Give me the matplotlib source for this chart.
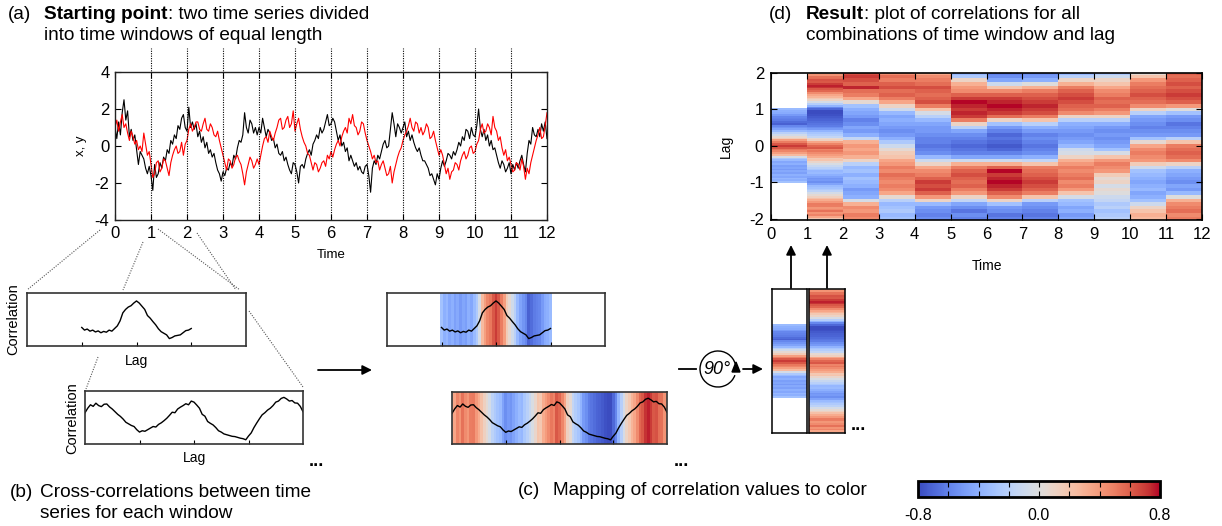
import numpy as np
import matplotlib
matplotlib.use("Agg")
import matplotlib.pyplot as plt
from matplotlib import cm, colors
from matplotlib.patches import Arc, Polygon

plt.rcParams['font.family'] = ['Liberation Sans', 'DejaVu Sans']
plt.rcParams['axes.unicode_minus'] = False

# ---------------------------------------------------------------- data
sample_step = 0.05          # time between samples of the two series
window_edges = [1, 2, 3, 4, 5, 6, 7, 8, 9, 10, 11]

# black series x(t), one row per unit-length window
x_series = [
    1.0, 0.4, 1.3, 0.6, 1.8, 2.5, 1.4, 1.9, 0.5, 0.9, 0.3, 0.6, -0.2, -1.0, -0.3, -0.5, -0.7, -1.2, -1.5, -1.1,
    -1.6, -2.4, -1.0, -1.7, -1.5, -0.9, -1.2, -0.6, -0.8, -0.2, -0.4, 0.3, 0.1, 0.6, 0.4, 1.1, 0.9, 1.5, 1.7, 1.0,
    0.8, 2.1, 1.0, 1.3, 0.9, 1.2, 0.5, 0.8, 0.2, 0.5, -0.1, 0.2, -0.4, -0.2, -0.6, -0.4, -0.9, -1.3, -1.5, -1.9,
    -1.4, -1.6, -1.2, -1.3, -0.9, -1.1, -0.5, -0.7, -0.1, 0.3, 0.2, 0.6, 1.8, 1.0, 0.7, 1.4, 1.2, 0.7, 1.0, 0.6,
    1.0, 0.7, 1.5, 1.0, 0.5, 0.9, 0.7, 0.3, 0.4, -0.1, 0.1, -0.4, -0.5, -0.3, -0.8, -0.6, -1.0, -1.3, -1.5, -0.9,
    -1.0, -1.4, -2.0, -1.1, -1.0, -1.2, -0.7, -0.4, -0.2, -0.5, 0.1, 0.3, 0.6, 0.4, 1.0, 0.7, 0.9, 1.3, 1.7, 1.1,
    1.2, 1.5, 1.3, 0.8, 0.3, 0.6, 0.0, 0.2, -0.3, -0.1, -0.8, -0.5, -0.8, -1.1, -0.9, -1.3, -1.1, -1.4, -1.5, -1.1,
    -1.0, -1.6, -2.5, -1.2, -0.8, -1.0, -0.5, -0.7, -0.3, 0.1, 0.3, -0.1, 0.0, 0.9, 1.8, 1.2, 0.5, 1.2, 1.0, 0.7,
    1.0, 1.3, 0.5, 0.8, 0.3, 0.6, 0.2, -0.1, -0.3, -0.1, -0.5, -0.8, -0.8, -1.0, -1.2, -1.6, -1.5, -1.8, -2.1, -1.5,
    -1.8, -1.2, -0.8, -1.1, -0.8, -0.4, -0.5, -0.7, -0.3, -0.5, -0.2, 0.2, 0.0, 0.5, 0.3, 0.9, 0.8, 0.4, 1.0, 0.6,
    0.5, 1.1, 2.0, 0.9, 0.5, 0.9, 0.3, 0.6, 0.0, 0.3, -0.2, -0.1, -0.5, -0.9, -1.2, -0.8, -1.0, -1.4, -1.2, -0.9,
    -1.5, -1.0, -1.3, -0.9, -1.2, -0.8, -0.5, -1.0, -1.4, -0.4, 0.3, 0.1, 1.0, 0.6, 0.5, 0.9, 0.5, 1.2, 0.8, 1.3,
    0.4,
]

# red series y(t)
y_series = [
    1.0, 1.4, 0.8, 1.3, 1.7, 1.0, 1.2, 0.7, 0.3, 0.8, 0.5, 0.1, 0.3, -0.2, 0.0, -0.3, 0.7, 0.1, -0.5, -0.3,
    -1.0, -1.7, -1.5, -0.9, -0.8, -1.4, -1.2, -0.7, -0.8, -1.2, -1.6, -0.9, -0.5, -0.2, 0.0, -0.4, -0.3, 0.2, -0.5, 0.1,
    0.3, 0.9, 1.2, 0.8, 1.0, 1.3, 1.3, 0.9, 0.8, 1.2, 1.5, 0.9, 0.8, 1.2, 1.0, 0.6, 0.5, 0.8, 0.3, -0.1,
    -0.5, -0.9, -1.3, -0.7, -0.8, -1.2, -1.0, -0.6, -0.5, -0.8, -1.0, -1.5, -2.1, -1.4, -1.0, -0.6, -0.8, -1.2, -1.0, -0.7,
    -1.0, -0.5, 0.0, 0.4, 0.5, 0.2, 0.8, 0.5, 0.3, 0.7, 1.0, 1.4, 1.5, 0.9, 1.0, 1.4, 1.6, 1.0, 1.2, 1.9,
    0.8, 1.2, 1.5, 0.9, 0.5, 0.2, 0.0, -0.4, -0.5, -0.9, -1.3, -0.9, -1.0, -1.4, -1.2, -0.9, -0.8, -1.1, -0.5, -0.7,
    -0.3, -0.6, -0.2, 0.1, 0.3, 0.0, 0.5, 0.8, 1.0, 0.7, 1.5, 1.2, 1.7, 1.1, 1.0, 0.6, 0.8, 1.3, 1.2, 0.7,
    0.3, 0.0, -0.3, -0.7, -0.5, -0.9, -0.8, -1.3, -1.0, -0.8, -1.2, -1.6, -1.5, -1.1, -2.0, -1.4, -1.0, -0.6, -0.3, -0.1,
    0.3, 0.6, 0.8, 1.1, 1.5, 1.0, 0.8, 1.3, 1.2, 0.7, 1.0, 0.6, 0.8, 1.2, 1.0, 0.4, 0.5, 0.8, 0.3, -0.1,
    -0.5, -0.2, -0.5, -1.0, -1.5, -1.2, -1.8, -1.4, -1.3, -0.9, -1.0, -1.3, -0.8, -0.5, -0.3, -0.7, -0.5, -0.1, 0.0, -0.4,
    -0.3, 0.1, 0.3, 0.9, 1.2, 0.7, 0.8, 1.2, 1.0, 0.6, 1.6, 1.0, 0.8, 0.3, 0.5, -0.1, -0.5, -0.2, -0.8, -0.6,
    -1.0, -1.4, -1.3, -0.9, -1.0, -1.3, -0.7, -1.1, -1.8, -1.2, -1.5, -0.9, -0.5, -0.1, 0.3, 0.6, 1.0, 0.4, 0.5, 1.1,
    1.8,
]

# cross-correlation of the first window, lags -1.00 ... 1.00 in steps of 0.05
fine_step = 0.05
corr_win1 = [
    -0.30, -0.40, -0.36, -0.44, -0.40, -0.47, -0.43, -0.50, -0.45, -0.48,
    -0.40, -0.44, -0.34, -0.24, -0.05, 0.25, 0.38, 0.47, 0.52, 0.62,
    0.70,
    0.62, 0.50, 0.38, 0.15, 0.05, -0.08, -0.20, -0.35, -0.46, -0.52,
    -0.58, -0.72, -0.68, -0.62, -0.60, -0.58, -0.50, -0.42, -0.40, -0.34,
]

# cross-correlation of the second window, lags -2.00 ... 2.00 in steps of 0.05
corr_win2 = [
    0.18, 0.35, 0.48, 0.42, 0.54, 0.45, 0.41, 0.50, 0.51, 0.40,
    0.32, 0.22, 0.12, 0.04, -0.06, -0.18, -0.24, -0.30, -0.34, -0.46,
    -0.55, -0.50, -0.52, -0.46, -0.40, -0.34, -0.36, -0.26, -0.20, -0.12,
    -0.03, 0.08, 0.20, 0.18, 0.32, 0.39, 0.45, 0.52, 0.48, 0.62,
    0.58,
    0.47, 0.35, 0.12, 0.05, -0.15, -0.22, -0.28, -0.38, -0.50, -0.55,
    -0.62, -0.65, -0.68, -0.71, -0.72, -0.75, -0.78, -0.80, -0.84, -0.70,
    -0.58, -0.38, -0.21, -0.05, 0.10, 0.18, 0.28, 0.35, 0.45, 0.58,
    0.62, 0.72, 0.76, 0.70, 0.62, 0.64, 0.55, 0.54, 0.42, 0.22,
]

# remaining windows, lags -2.0 ... 2.0 in steps of 0.1
coarse_step = 0.1
corr_win3 = [0.45, 0.5, 0.4, 0.45, 0.3, -0.05, -0.4, -0.45, -0.5, -0.4,
             -0.35, -0.3, -0.4, -0.3, -0.35, -0.2, 0.1, 0.3, 0.4, 0.35, 0.4,
             0.3, -0.15, -0.4, -0.5, -0.45, -0.55, -0.6, -0.5, -0.45, -0.4,
             -0.3, 0.05, 0.35, 0.5, 0.55, 0.75, 0.6, 0.65, 0.7, 0.65]
corr_win4 = [-0.3, -0.35, -0.25, -0.3, -0.35, -0.2, 0.05, 0.35, 0.45, 0.5,
             0.45, 0.5, 0.55, 0.45, 0.5, 0.4, 0.35, 0.2, 0.15, 0.05, -0.1,
             -0.25, -0.4, -0.5, -0.55, -0.5, -0.45, -0.4, -0.45, -0.35, -0.1,
             0.1, 0.35, 0.5, 0.6, 0.55, 0.65, 0.6, 0.5, 0.55, 0.45]
corr_win5 = [-0.55, -0.6, -0.55, -0.5, -0.35, 0.1, 0.4, 0.6, 0.7, 0.65,
             0.7, 0.6, 0.5, 0.45, 0.35, 0.1, -0.1, -0.35, -0.55, -0.6, -0.65,
             -0.6, -0.6, -0.55, -0.5, -0.5, -0.45, -0.35, -0.2, -0.05, 0.2,
             0.5, 0.65, 0.6, 0.55, 0.6, 0.65, 0.55, 0.5, 0.45, 0.35]
corr_win6 = [-0.6, -0.55, -0.65, -0.55, -0.45, -0.15, 0.1, 0.4, 0.5, 0.6,
             0.55, 0.6, 0.65, 0.6, 0.5, 0.3, -0.1, -0.45, -0.6, -0.65, -0.7,
             -0.65, -0.6, -0.55, -0.45, -0.2, 0.1, 0.5, 0.7, 0.75, 0.7,
             0.75, 0.8, 0.7, 0.6, 0.45, 0.4, 0.3, 0.1, -0.25, -0.35]
corr_win7 = [-0.6, -0.65, -0.55, -0.5, -0.3, 0.1, 0.45, 0.6, 0.7, 0.75,
             0.8, 0.75, 0.7, 0.8, 0.6, 0.3, -0.1, -0.45, -0.6, -0.7, -0.75,
             -0.7, -0.65, -0.7, -0.6, -0.5, -0.3, 0.1, 0.55, 0.7, 0.75,
             0.8, 0.75, 0.7, 0.6, 0.45, 0.2, -0.1, -0.45, -0.55, -0.6]
corr_win8 = [-0.6, -0.65, -0.6, -0.55, -0.5, -0.2, 0.2, 0.5, 0.6, 0.65,
             0.7, 0.65, 0.6, 0.55, 0.5, 0.2, -0.15, -0.4, -0.55, -0.6, -0.65,
             -0.6, -0.55, -0.6, -0.5, -0.4, -0.2, 0.2, 0.5, 0.65, 0.7,
             0.75, 0.7, 0.65, 0.6, 0.5, 0.3, 0.0, -0.4, -0.5, -0.55]
corr_win9 = [-0.45, -0.5, -0.4, -0.45, -0.35, -0.3, -0.05, 0.2, 0.4, 0.5,
             0.45, 0.55, 0.5, 0.45, 0.5, 0.4, 0.3, 0.1, -0.05, -0.1, -0.35,
             -0.45, -0.5, -0.55, -0.5, -0.45, -0.4, -0.2, 0.1, 0.45, 0.55,
             0.6, 0.65, 0.7, 0.65, 0.6, 0.5, 0.3, 0.1, -0.2, -0.35]
corr_win10 = [-0.2, -0.25, -0.3, -0.2, -0.25, -0.15, -0.1, 0.0, 0.05, -0.05,
              0.1, 0.05, 0.15, 0.4, 0.45, 0.5, 0.4, 0.2, -0.05, -0.3, -0.45,
              -0.5, -0.55, -0.5, -0.55, -0.5, -0.4, -0.2, 0.1, 0.4, 0.5,
              0.6, 0.55, 0.6, 0.5, 0.45, 0.35, 0.2, 0.1, -0.1, -0.25]
corr_win11 = [0.25, 0.3, 0.2, 0.1, -0.1, -0.3, -0.4, -0.45, -0.35, -0.4,
              -0.45, -0.4, -0.35, -0.3, -0.1, 0.15, 0.4, 0.45, 0.5, 0.45, 0.35,
              0.05, -0.3, -0.5, -0.55, -0.6, -0.55, -0.5, -0.45, -0.2, 0.1,
              0.45, 0.55, 0.6, 0.65, 0.6, 0.55, 0.5, 0.4, 0.2, 0.05]
corr_win12 = [0.5, 0.45, 0.55, 0.5, 0.45, 0.3, 0.0, -0.35, -0.5, -0.45,
              -0.55, -0.5, -0.45, -0.4, -0.2, 0.1, 0.45, 0.55, 0.6, 0.55, 0.5,
              0.2, -0.2, -0.5, -0.55, -0.6, -0.65, -0.55, -0.5, -0.3, 0.0,
              0.4, 0.6, 0.65, 0.7, 0.65, 0.6, 0.65, 0.6, 0.55, 0.6]

time_ticks = list(range(0, 13))
xy_ticks = [-4, -2, 0, 2, 4]
lag_ticks = [-2, -1, 0, 1, 2]
cbar_ticks = [-0.8, -0.6, -0.4, -0.2, 0.0, 0.2, 0.4, 0.6, 0.8]
cbar_labels = ['-0.8', '', '', '', '0.0', '', '', '', '0.8']

# ---------------------------------------------------------------- helpers
W, H = 1222, 526
fig = plt.figure(figsize=(W / 100, H / 100), dpi=100)
renderer = fig.canvas.get_renderer()
cmap = plt.get_cmap('coolwarm')
norm = colors.Normalize(vmin=-0.8, vmax=0.8)
TS = 13.7  # panel caption size


def px_axes(x0, y0, x1, y1, **kw):
    return fig.add_axes([x0 / W, 1 - y1 / H, (x1 - x0) / W, (y1 - y0) / H], **kw)


def ftext(x, y, s, **kw):
    return fig.text(x / W, 1 - y / H, s, **kw)


def lag_grid(n, step):
    half = (n - 1) * step / 2
    return np.arange(n) * step - half


def cell_edges(centres, step):
    return np.append(centres - step / 2, centres[-1] + step / 2)


def panel_caption(x_tag, x_body, y_base, tag, bold, rest, second=None):
    ftext(x_tag, y_base, tag, fontsize=TS, va='baseline')
    x_next = x_body
    if bold:
        t = ftext(x_body, y_base, bold, fontsize=TS, fontweight='bold', va='baseline')
        x_next = t.get_window_extent(renderer).x1
    ftext(x_next, y_base, rest, fontsize=TS, va='baseline')
    if second:
        ftext(x_body, y_base + 21, second, fontsize=TS, va='baseline')


def style_spines(ax, lw=1.0, color='#222222'):
    for s in ax.spines.values():
        s.set_linewidth(lw)
        s.set_color(color)


lags_w1 = lag_grid(len(corr_win1), fine_step)
lags_w2 = lag_grid(len(corr_win2), fine_step)
lags_coarse = lag_grid(len(corr_win3), coarse_step)
coarse_windows = [corr_win3, corr_win4, corr_win5, corr_win6, corr_win7,
                  corr_win8, corr_win9, corr_win10, corr_win11, corr_win12]

# ---------------------------------------------------------------- (a) time series
time = np.arange(len(x_series)) * sample_step
ax_a = px_axes(115, 72, 547, 220)
ax_a.plot(time, x_series, color='black', lw=0.8)
ax_a.plot(time, y_series, color='#ff0000', lw=0.8)
ax_a.vlines(window_edges, 0, 1.162, transform=ax_a.get_xaxis_transform(),
            colors='black', lw=0.8, linestyles=(0, (1, 1.2)), clip_on=False)
ax_a.set_xlim(0, 12)
ax_a.set_ylim(-4, 4)
ax_a.set_xticks(time_ticks)
ax_a.set_yticks(xy_ticks)
ax_a.tick_params(direction='in', top=True, right=True, length=4, labelsize=12, pad=4)
ax_a.set_xlabel('Time', fontsize=9.5)
ax_a.xaxis.label.set_va('center')
ax_a.xaxis.set_label_coords(0.5, -0.236)
ax_a.set_ylabel('x, y', fontsize=9.5)
ax_a.yaxis.label.set_va('center')
ax_a.yaxis.set_label_coords(-0.079, 0.5)
style_spines(ax_a)

# ---------------------------------------------------------------- (d) result heatmap
ax_d = px_axes(771, 73, 1202, 220)
ax_d.pcolormesh([0, 1], cell_edges(lags_w1, fine_step), np.array(corr_win1)[:, None],
                cmap=cmap, norm=norm)
ax_d.pcolormesh([1, 2], cell_edges(lags_w2, fine_step), np.array(corr_win2)[:, None],
                cmap=cmap, norm=norm)
for k, col in enumerate(coarse_windows):
    ax_d.pcolormesh([k + 2, k + 3], cell_edges(lags_coarse, coarse_step),
                    np.array(col)[:, None], cmap=cmap, norm=norm)
ax_d.set_xlim(0, 12)
ax_d.set_ylim(-2.04, 2.0)
ax_d.set_xticks(time_ticks)
ax_d.set_yticks(lag_ticks)
ax_d.tick_params(direction='in', top=True, right=True, length=4, labelsize=12, pad=5)
ax_d.set_xlabel('Time', fontsize=10)
ax_d.xaxis.label.set_va('center')
ax_d.xaxis.set_label_coords(0.5, -0.313)
ax_d.set_ylabel('Lag', fontsize=10)
ax_d.yaxis.label.set_va('center')
ax_d.yaxis.set_label_coords(-0.104, 0.5)
style_spines(ax_d, lw=1.2, color='black')


# ---------------------------------------------------------------- (b)/(c) correlation boxes
def corr_box(rect, lags, corr, step, coloured):
    ax = px_axes(*rect)
    if coloured:
        ax.pcolormesh(cell_edges(lags, step), [-1, 1], np.array(corr)[None, :],
                      cmap=cmap, norm=norm)
    ax.plot(lags, corr, color='black', lw=1.0)
    ax.set_xlim(-2, 2)
    ax.set_ylim(-1, 1)
    ax.set_xticks([-1, 0, 1])
    ax.set_xticklabels([])
    ax.set_yticks([])
    ax.tick_params(direction='in', length=3, width=0.8)
    style_spines(ax, lw=1.2, color='#333333')
    return ax


corr_box((27, 293, 246, 346), lags_w1, corr_win1, fine_step, False)
corr_box((85, 391, 303, 444), lags_w2, corr_win2, fine_step, False)
corr_box((387, 293, 605, 346), lags_w1, corr_win1, fine_step, True)
corr_box((452, 392, 667, 444), lags_w2, corr_win2, fine_step, True)

ftext(13, 319, 'Correlation', fontsize=10.5, rotation=90, ha='center', va='center')
ftext(136, 361, 'Lag', fontsize=10, ha='center', va='center')
ftext(72, 418, 'Correlation', fontsize=10.5, rotation=90, ha='center', va='center')
ftext(194, 458, 'Lag', fontsize=10, ha='center', va='center')


# rotated strips
def corr_strip(rect, lags, corr, step):
    ax = px_axes(*rect)
    ax.pcolormesh([0, 1], cell_edges(lags, step), np.array(corr)[:, None],
                  cmap=cmap, norm=norm)
    ax.set_xlim(0, 1)
    ax.set_ylim(-2, 2)
    ax.set_xticks([])
    ax.set_yticks([])
    style_spines(ax, lw=1.1, color='black')


corr_strip((772, 289, 807, 433), lags_w1, corr_win1, fine_step)
corr_strip((809, 289, 845, 433), lags_w2, corr_win2, fine_step)

# ---------------------------------------------------------------- colour bar
cax = px_axes(918, 481, 1160, 497)
cb = fig.colorbar(cm.ScalarMappable(norm=norm, cmap=cmap), cax=cax, orientation='horizontal')
cb.set_ticks(cbar_ticks)
cb.set_ticklabels(cbar_labels)
cax.tick_params(direction='in', top=True, bottom=True, length=4, width=0.8,
                labelsize=11.5, pad=8)
cb.outline.set_linewidth(2)
mid = cax.xaxis.get_major_ticks()[4]
mid.tick1line.set_color('#888888')
mid.tick2line.set_color('#888888')

# ---------------------------------------------------------------- connectors and arrows
ov = fig.add_axes([0, 0, 1, 1], zorder=10)
ov.set_xlim(0, W)
ov.set_ylim(H, 0)
ov.axis('off')
ov.patch.set_alpha(0)

dot = dict(color='#555555', lw=0.8, ls=(0, (1, 1.3)))
for (xa, ya), (xb, yb) in [((100, 230), (27, 290)), ((143, 242), (123, 290)),
                           ((158, 229), (240, 290)), ((197, 233), (236, 290)),
                           ((98, 357), (86, 389)), ((249, 311), (303, 387))]:
    ov.plot([xa, xb], [ya, yb], **dot)

arrow = dict(arrowstyle='-|>', color='black', lw=1.3, mutation_scale=14, shrinkA=0, shrinkB=0)
ov.annotate('', xy=(372, 370), xytext=(318, 370), arrowprops=arrow)
ov.annotate('', xy=(763, 369), xytext=(743, 369), arrowprops=arrow)
ov.annotate('', xy=(791, 245), xytext=(791, 288), arrowprops=arrow)
ov.annotate('', xy=(827, 245), xytext=(827, 288), arrowprops=arrow)
ov.plot([679, 696], [369, 369], color='black', lw=1.3)
ov.add_patch(Arc((718, 369), 36, 36, theta1=20, theta2=345, color='black', lw=1.0))
ov.add_patch(Polygon([[732, 372], [740, 372], [736, 362]], closed=True, color='black'))
ov.text(717, 370, '90°', fontsize=13, style='italic', ha='center', va='center')

for xd, yd in [(316, 466), (681, 466), (858, 430)]:
    ov.text(xd, yd, '...', fontsize=13, ha='center', va='baseline', fontweight='bold')

# ---------------------------------------------------------------- captions
panel_caption(8, 44, 19, '(a)', 'Starting point', ': two time series divided',
              'into time windows of equal length')
panel_caption(10, 40, 497, '(b)', None, 'Cross-correlations between time',
              'series for each window')
panel_caption(518, 553, 495, '(c)', None, 'Mapping of correlation values to color')
panel_caption(769, 806, 19, '(d)', 'Result', ': plot of correlations for all',
              'combinations of time window and lag')

fig.savefig('out.png', dpi=100)
